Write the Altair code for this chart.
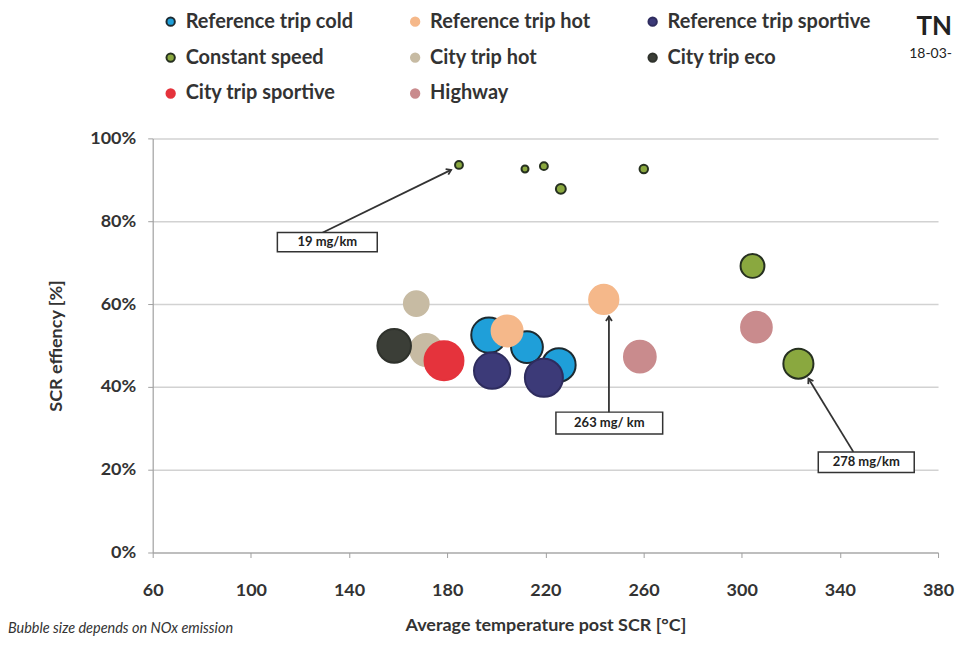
import altair as alt
import pandas as pd

# ---- series / legend ----
series_names = ["Reference trip cold", "Reference trip hot", "Reference trip sportive",
                "Constant speed", "City trip hot", "City trip eco",
                "City trip sportive", "Highway"]
fill_colors = ["#1f9fd9", "#f5b88a", "#3c3a78", "#8aa83f",
               "#c7bba3", "#3b3e37", "#e5333c", "#c98b8d"]
stroke_colors = ["#1d2a30", "#f5b88a", "#2e2c5e", "#263020",
                 "#c7bba3", "#2f322c", "#e5333c", "#c98b8d"]

# ---- bubbles (drawn in this order) ----
pt_series = ["Reference trip cold", "Reference trip cold", "Reference trip cold",
             "Reference trip hot", "Reference trip hot",
             "Reference trip sportive", "Reference trip sportive",
             "Constant speed", "Constant speed", "Constant speed", "Constant speed",
             "Constant speed", "Constant speed", "Constant speed",
             "City trip hot", "City trip hot",
             "City trip eco",
             "City trip sportive",
             "Highway", "Highway"]
pt_temp = [197.0, 212.5, 225.5,
           204.4, 243.8,
           198.3, 219.4,
           184.8, 211.7, 219.4, 226.3, 260.1, 304.4, 323.1,
           167.4, 171.4,
           158.4,
           178.7,
           258.5, 306.0]
pt_eff = [52.5, 49.6, 45.3,
          53.5, 61.1,
          43.9, 42.2,
          93.6, 92.6, 93.3, 87.8, 92.6, 69.2, 45.6,
          60.1, 48.9,
          49.9,
          46.3,
          47.3, 54.4]
pt_nox = [384, 311, 346,
          294, 263,
          403, 444,
          19, 15, 19, 30, 22, 175, 278,
          188, 311,
          346,
          464,
          310, 290]

# ---- annotations ----
ann_text = ["19 mg/km", "263 mg/ km", "278 mg/km"]
ann_tail_x = [128.7, 245.9, 345.5]
ann_tail_y = [77.1, 33.4, 24.3]
ann_head_x = [181.6, 245.9, 327.2]
ann_head_y = [92.4, 57.0, 42.0]
ann_head_angle = [63.8, 0.0, 328.7]
ann_box_x1 = [110.8, 224.3, 331.2]
ann_box_x2 = [151.5, 267.8, 370.3]
ann_box_y1 = [72.6, 28.6, 19.3]
ann_box_y2 = [77.3, 33.9, 24.3]

x_ticks = [60, 100, 140, 180, 220, 260, 300, 340, 380]
y_ticks = [0, 20, 40, 60, 80, 100]

FONT = "Lato"
TXT = "#333333"

pts = pd.DataFrame({
    "idx": list(range(len(pt_series))),
    "series": pt_series,
    "temp": pt_temp,
    "eff": pt_eff,
    "nox": pt_nox,
})
ann = pd.DataFrame({
    "text": ann_text,
    "tx": ann_tail_x, "ty": ann_tail_y,
    "hx": ann_head_x, "hy": ann_head_y,
    "ang": ann_head_angle,
    "bx1": ann_box_x1, "bx2": ann_box_x2,
    "by1": ann_box_y1, "by2": ann_box_y2,
})
ann["cx"] = (ann["bx1"] + ann["bx2"]) / 2
ann["cy"] = (ann["by1"] + ann["by2"]) / 2

xscale = alt.Scale(domain=[60, 380], nice=False, zero=False)
yscale = alt.Scale(domain=[0, 100], nice=False)

leg = alt.Legend(title=None, orient="none", legendX=8, legendY=-127,
                 direction="horizontal", columns=3)

bubbles = alt.Chart(pts).mark_point(filled=True, opacity=1, strokeWidth=2).encode(
    x=alt.X("temp:Q", scale=xscale,
            axis=alt.Axis(values=x_ticks, title="Average temperature post SCR [°C]",
                          grid=False, tickSize=5, labelPadding=24, titlePadding=17,
                          labelFlush=False)),
    y=alt.Y("eff:Q", scale=yscale,
            axis=alt.Axis(values=y_ticks, title="SCR effiency [%]",
                          labelExpr="datum.value + '%'", grid=True,
                          tickSize=5, labelPadding=12, titlePadding=24)),
    color=alt.Color("series:N", scale=alt.Scale(domain=series_names, range=fill_colors),
                    legend=leg, sort=series_names),
    stroke=alt.Stroke("series:N", scale=alt.Scale(domain=series_names, range=stroke_colors),
                      legend=leg, sort=series_names),
    size=alt.Size("nox:Q", scale=alt.Scale(domain=[0, 480], range=[0, 1570]), legend=None),
    order=alt.Order("idx:Q"),
)

arrows = alt.Chart(ann).mark_rule(color="#333333", strokeWidth=1.8).encode(
    x="tx:Q", y="ty:Q", x2="hx:Q", y2="hy:Q")

heads = alt.Chart(ann).mark_point(
    shape="M -0.55 0.85 L 0 0 L 0.55 0.85", filled=False, color="#333333",
    strokeWidth=1.8, size=120, opacity=1).encode(
    x="hx:Q", y="hy:Q", angle=alt.Angle("ang:Q", scale=None))

boxes = alt.Chart(ann).mark_rect(fill="white", stroke="#333333", strokeWidth=1.5).encode(
    x="bx1:Q", x2="bx2:Q", y="by1:Q", y2="by2:Q")

box_text = alt.Chart(ann).mark_text(font=FONT, fontWeight="bold", fontSize=13,
                                    color="#222222").encode(
    x="cx:Q", y="cy:Q", text="text:N")

note = alt.Chart(pd.DataFrame({"t": ["Bubble size depends on NOx emission"]})).mark_text(
    font=FONT, fontStyle="italic", fontSize=14.5, color=TXT, align="left",
    baseline="middle").encode(x=alt.value(-145), y=alt.value(492), text="t:N")

logo = alt.Chart(pd.DataFrame({"t": ["TN"]})).mark_text(
    font=FONT, fontWeight="bold", fontSize=26, color="#222222", align="right",
    baseline="middle").encode(x=alt.value(801), y=alt.value(-112), text="t:N")

date = alt.Chart(pd.DataFrame({"t": ["18-03-"]})).mark_text(
    font=FONT, fontSize=14, color="#222222", align="right",
    baseline="middle").encode(x=alt.value(801), y=alt.value(-85), text="t:N")

chart = alt.layer(bubbles, arrows, heads, boxes, box_text, note, logo, date).properties(
    width=787, height=415,
    padding={"left": 0, "top": 3, "right": 3, "bottom": 0}
).configure_view(stroke=None).configure_axis(
    domainColor="#a0a0a0", tickColor="#a0a0a0", gridColor="#d2d2d2", gridWidth=1.5,
    labelFont=FONT, labelFontWeight="bold", labelFontSize=18, labelColor=TXT,
    titleFont=FONT, titleFontWeight="bold", titleFontSize=18, titleColor=TXT,
    domainWidth=1.2
).configure_legend(
    labelFont=FONT, labelFontWeight="bold", labelFontSize=20, labelColor=TXT,
    symbolType="circle", symbolSize=70, symbolStrokeWidth=2, labelOffset=5,
    rowPadding=16, columnPadding=52, labelLimit=400
)

chart.save("out.html", embed_options={"renderer": "svg", "actions": False})
